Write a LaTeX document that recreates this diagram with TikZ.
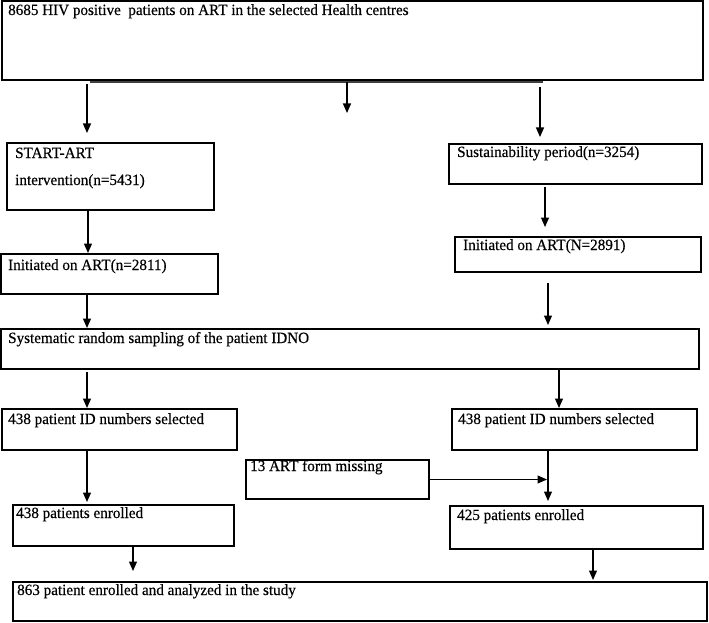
\documentclass[tikz,border=0pt]{standalone}
\usepackage{fontspec}
\setmainfont{Liberation Serif}[FakeBold=0.4,FakeStretch=0.97]
\usetikzlibrary{arrows.meta}
\newcommand{\mybox}[5]{\node[box, minimum width={(#4-#2)*1pt}, minimum height={(#5-#3)*1pt}] (#1) at (#2,#3) {};}
\begin{document}
\begin{tikzpicture}[x=1pt,y=-1pt,
  box/.style={draw, line width=1.2pt, anchor=north west, inner sep=0pt, outer sep=0pt},
  lbl/.style={anchor=base west, inner sep=0pt, font=\fontsize{15.6}{18}\selectfont},
  arr/.style={line width=1.2pt, -{Triangle[length=9.5pt,width=8pt]}},
  branch/.style={line width=1.8pt, black!75}]
\useasboundingbox (0,0) rectangle (709,623);
% boxes
\mybox{top}{2}{1}{703}{80}
\mybox{start}{7}{143}{214}{210}
\mybox{sust}{449}{144}{702}{184}
\mybox{initL}{1}{254}{218}{294}
\mybox{initR}{455}{237}{701}{272}
\mybox{syst}{1}{329}{699}{369}
\mybox{idL}{2}{409}{237}{450}
\mybox{idR}{452}{409}{697}{450}
\mybox{miss}{246}{460}{429}{499}
\mybox{enrL}{13}{505}{234}{546}
\mybox{enrR}{450}{506}{703}{549}
\mybox{final}{13}{582}{707}{621}
% texts
\node[lbl] (topt) at (8,15) {8685 HIV positive\ \ patients on ART in the selected Health centres};
\node[lbl] (startA) at (15,158) {START-ART};
\node[lbl] (startB) at (15,185) {intervention(n=5431)};
\node[lbl] (sustt) at (457,157) {Sustainability period(n=3254)};
\node[lbl] (initLt) at (8,270) {Initiated on ART(n=2811)};
\node[lbl] (initRt) at (463,250) {Initiated on ART(N=2891)};
\node[lbl] (systt) at (8,343) {Systematic random sampling of the patient IDNO};
\node[lbl] (idLt) at (8,424) {438 patient ID numbers selected};
\node[lbl] (idRt) at (458,424) {438 patient ID numbers selected};
\node[lbl] (misst) at (250,471) {13 ART form missing};
\node[lbl] (enrLt) at (16,518) {438 patients enrolled};
\node[lbl] (enrRt) at (457,520) {425 patients enrolled};
\node[lbl] (finalt) at (17,595) {863 patient enrolled and analyzed in the study};
% connectors
\coordinate (bl) at (90,82);
\coordinate (br) at (543,82);
\draw[branch] (bl) -- (br);
\draw[arr, shorten <=4pt, shorten >=10pt] (87,0 |- top.south) -- (87,0 |- start.north);
\coordinate (midend) at (347,113);
\draw[arr, shorten <=2pt] (347,0 |- top.south) -- (midend);
\draw[arr, shorten <=7pt, shorten >=7pt] (540,0 |- top.south) -- (540,0 |- sust.north);
\draw[arr, shorten >=1pt] (88,0 |- start.south) -- (88,0 |- initL.north);
\draw[arr, shorten <=3pt, shorten >=10pt] (545,0 |- sust.south) -- (545,0 |- initR.north);
\draw[arr, shorten >=1pt] (87,0 |- initL.south) -- (87,0 |- syst.north);
\draw[arr, shorten <=11pt, shorten >=4pt] (548,0 |- initR.south) -- (548,0 |- syst.north);
\draw[arr, shorten <=3pt, shorten >=1pt] (87,0 |- syst.south) -- (87,0 |- idL.north);
\draw[arr, shorten >=1pt] (559,0 |- syst.south) -- (559,0 |- idR.north);
\draw[arr, shorten >=3pt] (87,0 |- idL.south) -- (87,0 |- enrL.north);
\draw[arr, shorten >=5pt] (548,0 |- idR.south) -- (548,0 |- enrR.north);
\coordinate (join) at (547,479.5);
\draw[arr] (miss.east) -- (join);
\draw[arr, shorten >=11pt] (133,0 |- enrL.south) -- (133,0 |- final.north);
\draw[arr, shorten >=2pt] (593,0 |- enrR.south) -- (593,0 |- final.north);
\end{tikzpicture}
\end{document}
